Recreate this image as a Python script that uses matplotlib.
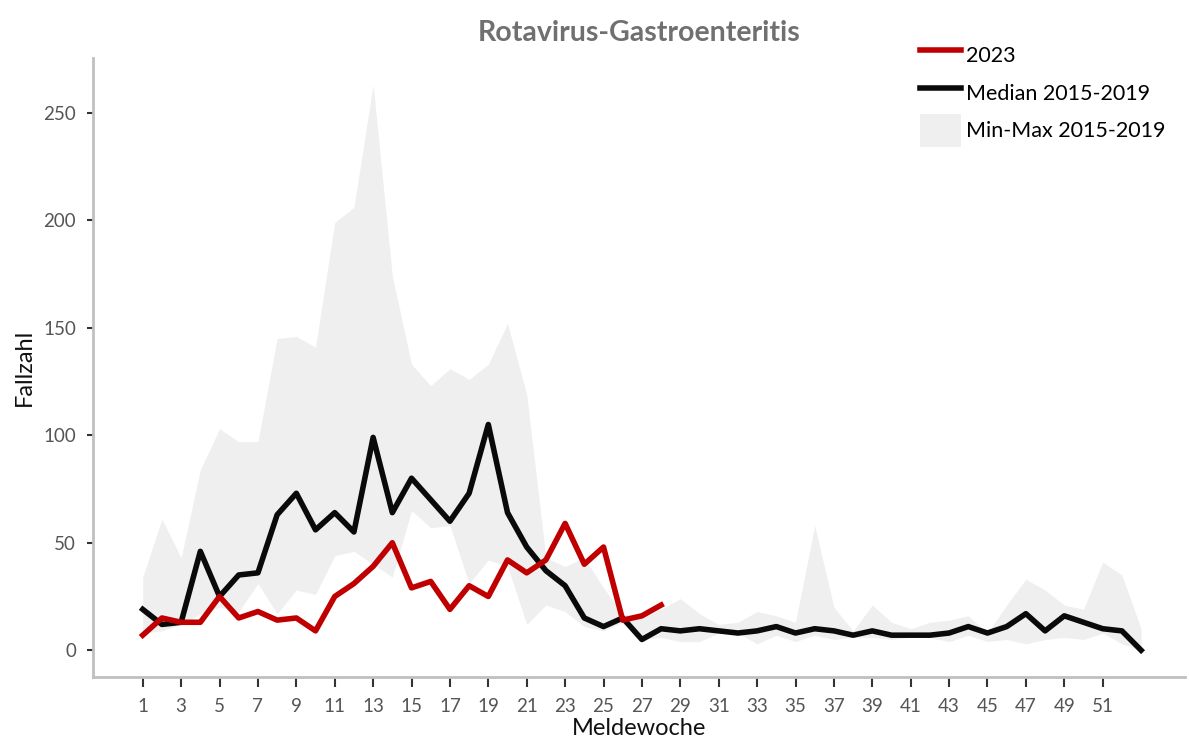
import matplotlib.pyplot as plt
import numpy as np

plt.rcParams['font.family'] = ['Lato', 'DejaVu Sans']

weeks = np.arange(1, 54)

# 2023 (bis KW 28)
weeks_2023 = np.arange(1, 29)
cases_2023 = [7, 15, 13, 13, 25, 15, 18, 14, 15, 9, 25, 31, 39, 50,
              29, 32, 19, 30, 25, 42, 36, 42, 59, 40, 48, 14, 16, 21]

median_1519 = [19, 12, 13, 46, 25, 35, 36, 63, 73, 56, 64, 55, 99, 64,
               80, 70, 60, 73, 105, 64, 48, 37, 30, 15, 11, 15, 5, 10,
               9, 10, 9, 8, 9, 11, 8, 10, 9, 7, 9, 7, 7, 7, 8, 11,
               8, 11, 17, 9, 16, 13, 10, 9, 0]

max_1519 = [34, 61, 43, 84, 103, 97, 97, 145, 146, 141, 199, 206, 263, 174,
            133, 123, 131, 126, 133, 152, 119, 43, 39, 43, 29, 17, 15, 19,
            24, 17, 12, 13, 18, 16, 13, 58, 20, 9, 21, 13, 10, 13, 14, 16,
            8, 21, 33, 28, 21, 19, 41, 35, 10]

min_1519 = [8, 9, 12, 17, 20, 18, 31, 17, 28, 26, 44, 46, 40, 34,
            65, 57, 58, 31, 42, 39, 12, 21, 18, 11, 9, 13, 5, 6,
            4, 4, 8, 8, 3, 7, 4, 7, 5, 6, 6, 5, 6, 6, 4, 7,
            4, 5, 3, 5, 6, 5, 8, 3, 0]

xtick_labels = list(range(1, 52, 2))
ytick_labels = [0, 50, 100, 150, 200, 250]

fig, ax = plt.subplots(figsize=(11.9, 7.4), dpi=100)
fig.subplots_adjust(left=0.078, right=0.996, top=0.922, bottom=0.085)

ax.fill_between(weeks, min_1519, max_1519, color='#efefef', lw=0,
                label='Min-Max 2015-2019')
ax.plot(weeks, median_1519, color='#0a0a0a', lw=4, solid_joinstyle='round',
        label='Median 2015-2019')
ax.plot(weeks_2023, cases_2023, color='#c00000', lw=4, solid_joinstyle='round',
        label='2023')

ax.set_xlim(-1.6, 55.3)
ax.set_ylim(-12.5, 275.6)
ax.set_xticks(xtick_labels)
ax.set_yticks(ytick_labels)

for side in ['top', 'right']:
    ax.spines[side].set_visible(False)
for side in ['left', 'bottom']:
    ax.spines[side].set_color('#c0c0c0')
    ax.spines[side].set_linewidth(2)

ax.tick_params(axis='both', colors='#333333', labelcolor='#555555',
               labelsize=13.5, length=7, width=1.5)
ax.tick_params(axis='x', pad=8)
ax.tick_params(axis='y', length=4, pad=8)

ax.set_xlabel('Meldewoche', fontsize=17, color='#111111', labelpad=2)
ax.set_ylabel('Fallzahl', fontsize=17, color='#111111', labelpad=6)
ax.set_title('Rotavirus-Gastroenteritis', fontsize=20.5, fontweight='bold',
             color='#707070', pad=12)

handles, labels = ax.get_legend_handles_labels()
order = [2, 1, 0]
leg = ax.legend([handles[i] for i in order], [labels[i] for i in order],
                loc='upper right', bbox_to_anchor=(1.0, 1.062), frameon=False,
                fontsize=15.5, handlelength=1.9, handleheight=2.0,
                labelspacing=0.2, handletextpad=0.25)

plt.savefig('out.png', dpi=100)
